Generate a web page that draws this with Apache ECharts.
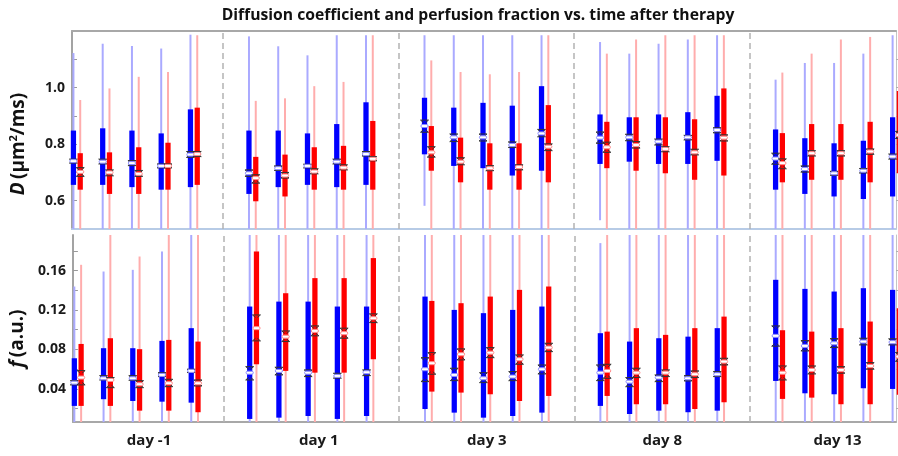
<!DOCTYPE html>
<html>
<head>
<meta charset="utf-8">
<script src="https://cdn.jsdelivr.net/npm/echarts@6/dist/echarts.min.js"></script>
<style>
  html, body { margin: 0; padding: 0; background: #fff; }
  #chart { width: 898px; height: 456px; }
</style>
</head>
<body>
<div id="chart"></div>
<script>
// ---- categories and ticks ----
const days = ['day -1', 'day 1', 'day 3', 'day 8', 'day 13'];
const boxesPerDay = 5;
const dLabelTicks = [0.6, 0.8, 1.0];
const dMinorTicks = [0.6, 0.7, 0.8, 0.9, 1.0, 1.1];
const fLabelTicks = [0.04, 0.08, 0.12, 0.16];
const fMinorTicks = [0.02, 0.04, 0.06, 0.08, 0.10, 0.12, 0.14, 0.16, 0.18];

// ---- D (µm²/ms), blue group; 5 boxes per day, days in order ----
const dBlueLo  = [0.45, 0.45, 0.45, 0.45, 0.45,  0.45, 0.45, 0.45, 0.45, 0.45,  0.582, 0.45, 0.45, 0.45, 0.45,  0.531, 0.45, 0.45, 0.45, 0.45,  0.45, 0.45, 0.45, 0.45, 0.45];
const dBlueQ1  = [0.656, 0.656, 0.648, 0.639, 0.648,  0.624, 0.648, 0.656, 0.648, 0.656,  0.764, 0.723, 0.715, 0.689, 0.706,  0.730, 0.738, 0.730, 0.730, 0.741,  0.639, 0.624, 0.615, 0.606, 0.615];
const dBlueMed = [0.740, 0.738, 0.733, 0.723, 0.763,  0.697, 0.715, 0.723, 0.738, 0.765,  0.864, 0.824, 0.824, 0.797, 0.838,  0.823, 0.824, 0.809, 0.824, 0.850,  0.749, 0.712, 0.697, 0.706, 0.756];
const dBlueQ3  = [0.848, 0.856, 0.848, 0.838, 0.923,  0.848, 0.848, 0.838, 0.871, 0.948,  0.964, 0.929, 0.946, 0.936, 1.005,  0.905, 0.895, 0.905, 0.913, 0.971,  0.852, 0.821, 0.803, 0.812, 0.895];
const dBlueHi  = [1.122, 1.155, 1.147, 1.138, 1.187,  1.181, 1.146, 1.114, 1.185, 1.185,  1.185, 1.185, 1.185, 1.185, 1.185,  1.161, 1.120, 1.155, 1.170, 1.185,  1.028, 1.087, 1.087, 1.120, 1.185];
const dBlueCiLo = [0.733, 0.730, 0.724, 0.716, 0.753,  0.686, 0.707, 0.716, 0.730, 0.758,  0.842, 0.809, 0.811, 0.788, 0.826,  0.803, 0.812, 0.797, 0.815, 0.840,  0.729, 0.701, 0.690, 0.698, 0.747];
const dBlueCiHi = [0.747, 0.747, 0.742, 0.730, 0.774,  0.709, 0.723, 0.729, 0.747, 0.774,  0.885, 0.836, 0.836, 0.808, 0.852,  0.843, 0.835, 0.818, 0.831, 0.858,  0.768, 0.723, 0.704, 0.714, 0.765];

// ---- D (µm²/ms), red group ----
const dRedLo  = [0.45, 0.45, 0.45, 0.45, 0.45,  0.45, 0.45, 0.45, 0.45, 0.45,  0.45, 0.45, 0.45, 0.45, 0.45,  0.45, 0.45, 0.45, 0.45, 0.45,  0.45, 0.45, 0.45, 0.45, 0.45];
const dRedQ1  = [0.639, 0.624, 0.624, 0.639, 0.656,  0.598, 0.615, 0.639, 0.639, 0.639,  0.706, 0.665, 0.639, 0.639, 0.665,  0.715, 0.706, 0.697, 0.674, 0.689,  0.665, 0.674, 0.674, 0.665, 0.697];
const dRedMed = [0.702, 0.700, 0.695, 0.723, 0.765,  0.680, 0.689, 0.703, 0.717, 0.748,  0.771, 0.738, 0.715, 0.719, 0.791,  0.789, 0.797, 0.783, 0.771, 0.823,  0.733, 0.768, 0.768, 0.774, 0.832];
const dRedQ3  = [0.768, 0.771, 0.789, 0.805, 0.929,  0.755, 0.763, 0.789, 0.794, 0.882,  0.864, 0.823, 0.803, 0.803, 0.938,  0.879, 0.895, 0.895, 0.888, 0.997,  0.839, 0.871, 0.871, 0.879, 0.988];
const dRedHi  = [0.956, 0.997, 1.038, 1.055, 1.185,  0.953, 0.962, 1.005, 1.020, 1.185,  1.096, 1.055, 1.047, 1.055, 1.185,  1.120, 1.170, 1.185, 1.185, 1.185,  1.053, 1.120, 1.170, 1.179, 1.185];
const dRedCiLo = [0.686, 0.688, 0.686, 0.716, 0.756,  0.662, 0.680, 0.695, 0.709, 0.741,  0.754, 0.727, 0.706, 0.709, 0.777,  0.771, 0.786, 0.773, 0.762, 0.811,  0.713, 0.758, 0.758, 0.764, 0.820];
const dRedCiHi = [0.717, 0.709, 0.707, 0.730, 0.774,  0.692, 0.700, 0.713, 0.727, 0.756,  0.791, 0.752, 0.724, 0.727, 0.801,  0.807, 0.809, 0.791, 0.782, 0.833,  0.748, 0.777, 0.777, 0.783, 0.845];

// ---- f (a.u.), blue group ----
const fBlueLo  = [0, 0, 0, 0, 0,  0, 0, 0, 0, 0,  0, 0, 0, 0, 0,  0, 0, 0, 0, 0,  0, 0, 0, 0, 0];
const fBlueQ1  = [0.0228, 0.0296, 0.0278, 0.0271, 0.0261,  0.0096, 0.0109, 0.0126, 0.0096, 0.0126,  0.0197, 0.0160, 0.0109, 0.0126, 0.0160,  0.0228, 0.0146, 0.0180, 0.0164, 0.0180,  0.0481, 0.0356, 0.0346, 0.0407, 0.0400];
const fBlueMed = [0.0464, 0.0508, 0.0508, 0.0542, 0.0583,  0.0565, 0.0583, 0.0565, 0.0532, 0.0569,  0.0600, 0.0542, 0.0508, 0.0525, 0.0600,  0.0565, 0.0474, 0.0515, 0.0508, 0.0549,  0.0938, 0.0836, 0.0863, 0.0880, 0.0874];
const fBlueQ3  = [0.0711, 0.0813, 0.0813, 0.0887, 0.1016,  0.1235, 0.1285, 0.1285, 0.1235, 0.1235,  0.1336, 0.1201, 0.1168, 0.1201, 0.1235,  0.0965, 0.0880, 0.0914, 0.0930, 0.1016,  0.1506, 0.1414, 0.1387, 0.1421, 0.1404];
const fBlueHi  = [0.1438, 0.1590, 0.1607, 0.1793, 0.2000,  0.2000, 0.2000, 0.2000, 0.2000, 0.2000,  0.2000, 0.2000, 0.2000, 0.2000, 0.2000,  0.1878, 0.2000, 0.2000, 0.2000, 0.2000,  0.2000, 0.2000, 0.2000, 0.2000, 0.2000];
const fBlueCiLo = [0.0441, 0.0491, 0.0488, 0.0525, 0.0566,  0.0491, 0.0542, 0.0525, 0.0509, 0.0535,  0.0474, 0.0484, 0.0464, 0.0484, 0.0552,  0.0484, 0.0423, 0.0474, 0.0481, 0.0525,  0.0833, 0.0785, 0.0819, 0.0846, 0.0846];
const fBlueCiHi = [0.0484, 0.0535, 0.0535, 0.0565, 0.0600,  0.0626, 0.0620, 0.0593, 0.0559, 0.0593,  0.0717, 0.0610, 0.0565, 0.0576, 0.0643,  0.0643, 0.0515, 0.0542, 0.0535, 0.0576,  0.1039, 0.0890, 0.0910, 0.0914, 0.0908];

// ---- f (a.u.), red group ----
const fRedLo  = [0, 0, 0, 0, 0,  0, 0, 0, 0, 0,  0, 0, 0, 0, 0,  0, 0, 0, 0, 0,  0, 0, 0, 0, 0];
const fRedQ1  = [0.0228, 0.0228, 0.0180, 0.0180, 0.0164,  0.0650, 0.0583, 0.0565, 0.0565, 0.0701,  0.0373, 0.0363, 0.0346, 0.0278, 0.0329,  0.0329, 0.0245, 0.0245, 0.0197, 0.0265,  0.0299, 0.0312, 0.0245, 0.0245, 0.0342];
const fRedMed = [0.0515, 0.0491, 0.0448, 0.0458, 0.0458,  0.1016, 0.0930, 0.0988, 0.0965, 0.1117,  0.0661, 0.0752, 0.0768, 0.0701, 0.0819,  0.0583, 0.0565, 0.0565, 0.0549, 0.0677,  0.0565, 0.0593, 0.0593, 0.0633, 0.0728];
const fRedQ3  = [0.0856, 0.0914, 0.0803, 0.0897, 0.0880,  0.1793, 0.1370, 0.1523, 0.1523, 0.1726,  0.1292, 0.1269, 0.1336, 0.1404, 0.1438,  0.0981, 0.1016, 0.0948, 0.1016, 0.1133,  0.0995, 0.0981, 0.1016, 0.1083, 0.1218];
const fRedHi  = [0.1658, 0.2000, 0.1742, 0.2000, 0.2000,  0.2000, 0.2000, 0.2000, 0.2000, 0.2000,  0.2000, 0.2000, 0.2000, 0.2000, 0.2000,  0.2000, 0.2000, 0.2000, 0.2000, 0.2000,  0.2000, 0.2000, 0.2000, 0.2000, 0.2000];
const fRedCiLo = [0.0441, 0.0413, 0.0413, 0.0423, 0.0430,  0.0887, 0.0880, 0.0938, 0.0914, 0.1072,  0.0549, 0.0694, 0.0717, 0.0650, 0.0778,  0.0508, 0.0515, 0.0525, 0.0515, 0.0643,  0.0491, 0.0552, 0.0559, 0.0600, 0.0680];
const fRedCiHi = [0.0586, 0.0515, 0.0484, 0.0498, 0.0491,  0.1150, 0.0988, 0.1039, 0.1016, 0.1161,  0.0768, 0.0806, 0.0819, 0.0745, 0.0863,  0.0650, 0.0610, 0.0593, 0.0583, 0.0711,  0.0633, 0.0633, 0.0626, 0.0667, 0.0770];

// ---- layout of the x scale: each day spans 6 slots, boxes sit in slots 1..5 ----
const SLOTS_PER_DAY = 6;
const X_MIN = 0.835, X_MAX = 29.0;
const PAIR_SHIFT = 0.116;
const dayEdges = [1, 2, 3, 4].map(d => d * SLOTS_PER_DAY);
const dayLabelPos = [3.44, 9.25, 15, 21, 27];

const D_MIN = 0.5, D_MAX = 1.2;
const F_MIN = 0.0065, F_MAX = 0.196;

function boxRows(lo, q1, med, q3, hi, ciLo, ciHi, shift) {
  return lo.map((_, i) => {
    const day = Math.floor(i / boxesPerDay);
    const slot = i % boxesPerDay;
    const x = day * SLOTS_PER_DAY + slot + 1 + shift;
    return [x, lo[i], q1[i], med[i], q3[i], hi[i], ciLo[i], ciHi[i]];
  });
}

// whisker, interquartile bar, notch chevrons at the median interval, median marker
function boxRenderer(yMin, yMax, fill, whisker, ring) {
  return function (params, api) {
    const clamp = v => Math.max(yMin, Math.min(yMax, v));
    const x = api.value(0);
    const at = v => api.coord([x, clamp(v)]);
    const cx = at(api.value(3))[0];
    const yLo = at(api.value(1))[1];
    const yQ1 = at(api.value(2))[1];
    const yMed = at(api.value(3))[1];
    const yQ3 = at(api.value(4))[1];
    const yHi = at(api.value(5))[1];
    const yCiLo = at(api.value(6))[1];
    const yCiHi = at(api.value(7))[1];
    const bw = api.size([0.18, 0])[0];
    const hw = 4, tip = 1, drop = Math.min(2.5, Math.abs(yMed - yCiHi));
    const riseLo = Math.min(2.5, Math.abs(yCiLo - yMed));
    const notch = { stroke: '#333333', lineWidth: 1, fill: null };
    return {
      type: 'group',
      children: [
        { type: 'line', shape: { x1: cx, y1: yLo, x2: cx, y2: yHi }, style: { stroke: whisker, lineWidth: 2 } },
        { type: 'rect', shape: { x: cx - bw / 2, y: yQ3, width: bw, height: yQ1 - yQ3 }, style: { fill: fill } },
        { type: 'polyline', shape: { points: [[cx - tip, yCiHi + drop], [cx - hw, yCiHi], [cx + hw, yCiHi], [cx + tip, yCiHi + drop]] }, style: notch },
        { type: 'polyline', shape: { points: [[cx - tip, yCiLo - riseLo], [cx - hw, yCiLo], [cx + hw, yCiLo], [cx + tip, yCiLo - riseLo]] }, style: notch },
        { type: 'rect', shape: { x: cx - 3.6, y: yMed - 1.5, width: 7.2, height: 3, r: 1.5 }, style: { fill: '#ffffff', stroke: ring, lineWidth: 1 } }
      ]
    };
  };
}

const separators = {
  silent: true,
  symbol: 'none',
  label: { show: false },
  lineStyle: { color: '#b3b3b3', type: [6, 4], width: 1.5 },
  data: dayEdges.map(v => ({ xAxis: v }))
};

const FONT = 'Open Sans';
const labelFont = { fontFamily: FONT, fontWeight: 'bold', fontSize: 14, color: '#1a1a1a' };

function leftAxis(gridIndex, min, max, labels, ticks, digits, name, shiftDown) {
  return {
    gridIndex, type: 'value', min, max, position: 'left',
    axisLine: { show: true, lineStyle: { color: '#a3a3a3', width: 2 } },
    axisTick: { show: true, inside: true, length: 5, customValues: ticks, lineStyle: { color: '#9a9a9a' } },
    axisLabel: Object.assign({ customValues: labels, margin: 7, formatter: v => v.toFixed(digits) }, labelFont),
    splitLine: { show: false },
    name: name, nameLocation: 'middle', nameRotate: 90, nameGap: 42,
    nameTextStyle: {
      padding: [0, shiftDown, 0, 0],
      rich: {
        i: { fontFamily: FONT, fontStyle: 'italic', fontWeight: 'bold', fontSize: 19, color: '#111', lineHeight: 22 },
        n: { fontFamily: FONT, fontWeight: 'bold', fontSize: 19, color: '#111', lineHeight: 22 },
        s: { fontFamily: FONT, fontWeight: 'bold', fontSize: 11, color: '#111', lineHeight: 13, verticalAlign: 'top' }
      }
    }
  };
}

function rightAxis(gridIndex, min, max, ticks) {
  return {
    gridIndex, type: 'value', min, max, position: 'right',
    axisLine: { show: true, lineStyle: { color: '#c4c4c4', width: 1 } },
    axisTick: { show: true, inside: false, length: 4, customValues: ticks, lineStyle: { color: '#b0b0b0' } },
    axisLabel: { show: false },
    splitLine: { show: false }
  };
}

const chart = echarts.init(document.getElementById('chart'), null, { renderer: 'canvas' });
chart.setOption({
  animation: false,
  backgroundColor: '#ffffff',
  title: {
    text: 'Diffusion coefficient and perfusion fraction vs. time after therapy',
    left: 473, top: 3, textAlign: 'center',
    textStyle: { fontFamily: FONT, fontWeight: 'bold', fontSize: 15.7, color: '#111' }
  },
  grid: [
    { left: 70, right: 2, top: 31, height: 198 },
    { left: 70, right: 2, top: 235, height: 187 }
  ],
  xAxis: [
    { gridIndex: 0, type: 'value', min: X_MIN, max: X_MAX, position: 'bottom',
      axisLine: { show: true, onZero: false, lineStyle: { color: '#b7cbe6', width: 2 } },
      axisTick: { show: false }, axisLabel: { show: false }, splitLine: { show: false } },
    { gridIndex: 0, type: 'value', min: X_MIN, max: X_MAX, position: 'top',
      axisLine: { show: true, onZero: false, lineStyle: { color: '#a8a8a8', width: 2 } },
      axisTick: { show: false }, axisLabel: { show: false }, splitLine: { show: false } },
    { gridIndex: 1, type: 'value', min: X_MIN, max: X_MAX, position: 'bottom',
      axisLine: { show: true, onZero: false, lineStyle: { color: '#a8a8a8', width: 2 } },
      axisTick: { show: false }, splitLine: { show: false },
      axisLabel: Object.assign({ customValues: dayLabelPos, margin: 11,
        formatter: v => days[dayLabelPos.indexOf(v)] }, labelFont, { fontSize: 15 }) }
  ],
  yAxis: [
    leftAxis(0, D_MIN, D_MAX, dLabelTicks, dMinorTicks, 1, '{i|D} {n|(μm}{s|2}{n|/ms)}', 28),
    rightAxis(0, D_MIN, D_MAX, dMinorTicks),
    leftAxis(1, F_MIN, F_MAX, fLabelTicks, fMinorTicks, 2, '{i|f} {n|(a.u.)}', 20),
    rightAxis(1, F_MIN, F_MAX, fMinorTicks)
  ],
  series: [
    { type: 'custom', xAxisIndex: 0, yAxisIndex: 0,
      data: boxRows(dBlueLo, dBlueQ1, dBlueMed, dBlueQ3, dBlueHi, dBlueCiLo, dBlueCiHi, -PAIR_SHIFT),
      renderItem: boxRenderer(D_MIN, D_MAX, '#0000ff', '#aaaaff', '#8c8cff'),
      markLine: separators, z: 3 },
    { type: 'custom', xAxisIndex: 0, yAxisIndex: 0,
      data: boxRows(dRedLo, dRedQ1, dRedMed, dRedQ3, dRedHi, dRedCiLo, dRedCiHi, PAIR_SHIFT),
      renderItem: boxRenderer(D_MIN, D_MAX, '#ff0000', '#ffadad', '#ff8c8c'), z: 3 },
    { type: 'custom', xAxisIndex: 2, yAxisIndex: 2,
      data: boxRows(fBlueLo, fBlueQ1, fBlueMed, fBlueQ3, fBlueHi, fBlueCiLo, fBlueCiHi, -PAIR_SHIFT),
      renderItem: boxRenderer(F_MIN, F_MAX, '#0000ff', '#aaaaff', '#8c8cff'),
      markLine: separators, z: 3 },
    { type: 'custom', xAxisIndex: 2, yAxisIndex: 2,
      data: boxRows(fRedLo, fRedQ1, fRedMed, fRedQ3, fRedHi, fRedCiLo, fRedCiHi, PAIR_SHIFT),
      renderItem: boxRenderer(F_MIN, F_MAX, '#ff0000', '#ffadad', '#ff8c8c'), z: 3 }
  ]
});
</script>
</body>
</html>
